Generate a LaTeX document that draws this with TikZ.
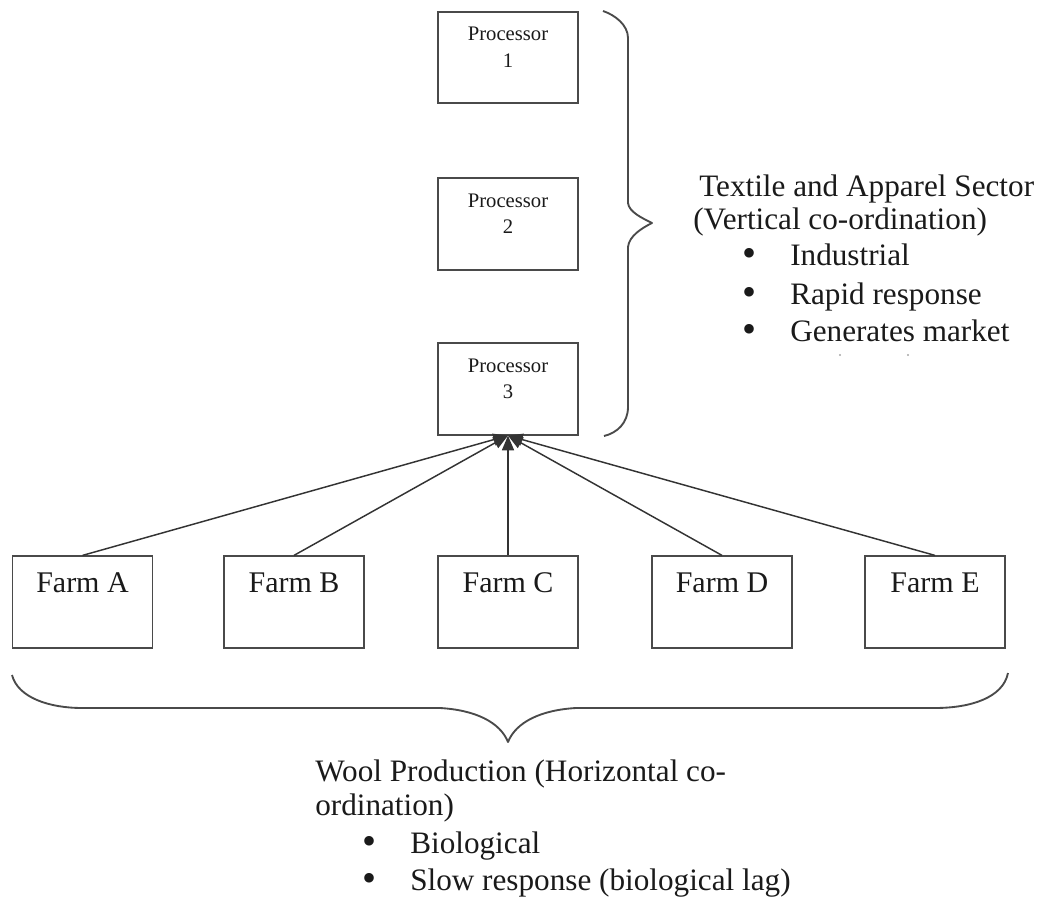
\documentclass[tikz,border=0pt]{standalone}
\usepackage{fontspec}
\setmainfont{Liberation Serif}
\usetikzlibrary{arrows.meta}
\definecolor{boxgray}{HTML}{4A4A4A}
\definecolor{linegray}{HTML}{333333}
\definecolor{txt}{HTML}{1A1A1A}
\newcommand{\bul}{{\fontsize{30}{30}\selectfont\raisebox{-1pt}{•}}}
\begin{document}
\begin{tikzpicture}[x=0.75pt,y=-0.75pt,
  box/.style={draw=boxgray, line width=1.4pt, minimum width=105pt, minimum height=68.5pt, inner sep=0pt},
  ptext/.style={font=\fontsize{15.5}{20}\selectfont, align=center, inner sep=0pt, text=txt},
  ftext/.style={font=\fontsize{22.5}{27}\selectfont, inner sep=0pt, text=txt},
  side/.style={font=\fontsize{23.4}{30}\selectfont, inner sep=0pt, anchor=base west, text=txt},
  conn/.style={draw=linegray, line width=1.1pt, -{Triangle[length=11pt,width=9pt]}},
  brace/.style={draw=boxgray, line width=1.4pt, line join=round}
]
\useasboundingbox (0,0) rectangle (1039,899);

% processors
\node[box] (p1) at (508,57.5) {};
\node[box] (p2) at (508,224) {};
\node[box] (p3) at (508,389) {};
\node[ptext] (p1t) at ([yshift=-27.2pt]p1.north) {Processor\\1};
\node[ptext] (p2t) at ([yshift=-27.2pt]p2.north) {Processor\\2};
\node[ptext] (p3t) at ([yshift=-27.2pt]p3.north) {Processor\\3};

% farms
\node[box] (fA) at (82.5,602) {};
\node[box] (fB) at (294,602) {};
\node[box] (fC) at (508,602) {};
\node[box] (fD) at (722,602) {};
\node[box] (fE) at (935,602) {};
\node[ftext] (fAt) at ([yshift=-20.2pt]fA.north) {Farm A};
\node[ftext] (fBt) at ([yshift=-20.2pt]fB.north) {Farm B};
\node[ftext] (fCt) at ([yshift=-20.2pt]fC.north) {Farm C};
\node[ftext] (fDt) at ([yshift=-20.2pt]fD.north) {Farm D};
\node[ftext] (fEt) at ([yshift=-20.2pt]fE.north) {Farm E};

% connectors
\draw[conn] (fA.north) -- (p3.south);
\draw[conn] (fB.north) -- (p3.south);
\draw[conn] (fC.north) -- (p3.south);
\draw[conn] (fD.north) -- (p3.south);
\draw[conn] (fE.north) -- (p3.south);

% right brace
\draw[brace] (603,11) .. controls (615,15) and (628,25) .. (628,38) -- (628,203)
  .. controls (629,212) and (642,218) .. (652,223)
  .. controls (642,228) and (629,236) .. (628,247) -- (628,407)
  .. controls (628,423) and (617,433) .. (604,436);

% bottom brace
\draw[brace] (12,675) .. controls (18,698) and (50,708) .. (82,708) -- (440,708)
  .. controls (475,710) and (500,722) .. (508,742)
  .. controls (516,722) and (541,710) .. (576,708) -- (935,708)
  .. controls (970,708) and (1003,698) .. (1008,673);

% right text
\node[side] (t1) at (699,196) {Textile and Apparel Sector};
\node[side] (t2) at (693,229) {(Vertical co-ordination)};
\node[side] (t3) at (742,265) {\makebox[36pt][l]{\bul}Industrial};
\node[side] (t4) at (742,304) {\makebox[36pt][l]{\bul}Rapid response};
\node[side] (t5) at (742,341) {\makebox[36pt][l]{\bul}Generates market};
\fill[gray!70] (840,355) circle (0.9pt);
\fill[gray!70] (908,355) circle (0.9pt);

% bottom text
\node[side] (b1) at (315,781) {Wool Production (Horizontal co-};
\node[side] (b2) at (315,815) {ordination)};
\node[side] (b3) at (362,853) {\makebox[36pt][l]{\bul}Biological};
\node[side] (b4) at (362,890) {\makebox[36pt][l]{\bul}Slow response (biological lag)};
\end{tikzpicture}
\end{document}
